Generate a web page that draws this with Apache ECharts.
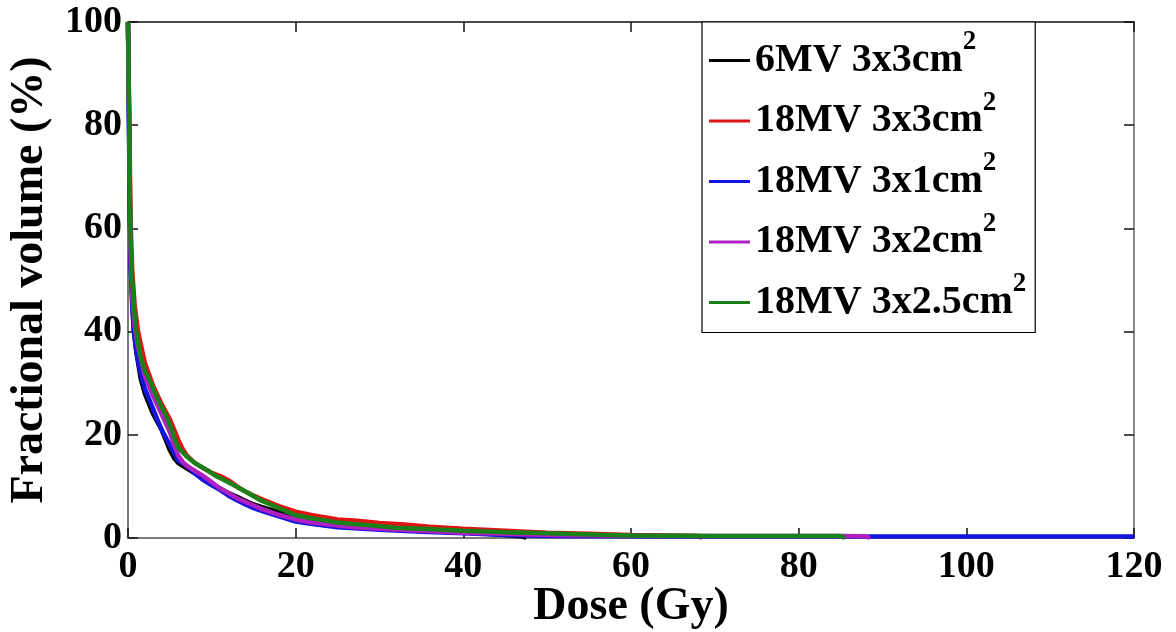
<!DOCTYPE html>
<html>
<head>
<meta charset="utf-8">
<script src="https://cdn.jsdelivr.net/npm/echarts@6/dist/echarts.min.js"></script>
<style>
html,body{margin:0;padding:0;background:#fff;}
#chart{width:1176px;height:632px;}
</style>
</head>
<body>
<div id="chart"></div>
<script>
// Series names (legend text, superscript "2" appended by formatter)
const seriesNames = ['6MV 3x3cm', '18MV 3x3cm', '18MV 3x1cm', '18MV 3x2cm', '18MV 3x2.5cm'];
const seriesColors = ['#000000', '#e01414', '#1414e0', '#b020c0', '#1a801a'];

// Tick values
const xTicks = [0, 20, 40, 60, 80, 100, 120];
const yTicks = [0, 20, 40, 60, 80, 100];

// [dose (Gy), fractional volume (%)]
const black6MV3x3 = [[0,100],[0.1,85],[0.2,68],[0.3,55],[0.5,46],[0.7,40],[1,36],[1.5,31],[2,28],[2.5,26],[3,24],[3.5,22.5],[4,21],[4.5,19],[5,17],[5.5,15.5],[6,14.5],[7,13.5],[8,12.5],[9,11.5],[10,10.5],[11,9.6],[12,8.7],[13,8],[14,7.2],[15,6.5],[16,6],[18,5],[20,4.2],[22,3.6],[25,2.9],[28,2.3],[30,2],[35,1.5],[40,1.1],[45,0.6],[47,0.3],[47.5,0]];
const red18MV3x3 = [[0,100],[0.1,88],[0.2,75],[0.3,62],[0.5,52],[0.8,45],[1.2,40],[2,34],[3,29.5],[4,26],[5,23],[5.5,21],[6,19],[6.5,17.3],[7,16],[8,14.5],[9,13.5],[10,12.6],[11,12],[12,11.2],[13,10],[14,9],[15,8.2],[16,7.5],[18,6.2],[20,5.1],[22,4.4],[25,3.6],[27,3.4],[30,2.9],[33,2.6],[36,2.2],[40,1.8],[45,1.4],[50,1.0],[55,0.8],[60,0.6],[65,0.5],[68,0.4],[68.5,0]];
const blue18MV3x1 = [[0,100],[0.1,82],[0.2,66],[0.3,53],[0.5,45],[0.7,40],[1,36],[1.5,32],[2,29],[2.5,27],[3,25],[3.5,23],[4,21],[4.5,19.5],[5,18],[5.5,16.5],[6,15],[7,14],[8,12.5],[9,11.2],[10,10.2],[11,9.3],[12,8.2],[13,7.3],[14,6.5],[15,5.8],[16,5.2],[18,4.2],[20,3.2],[22,2.7],[25,2.1],[27,1.9],[30,1.6],[35,1.2],[40,0.9],[45,0.6],[50,0.4],[60,0.35],[70,0.3],[80,0.3],[90,0.3],[100,0.3],[110,0.3],[120,0.3]];
const magenta18MV3x2 = [[0,100],[0.1,84],[0.2,68],[0.3,55],[0.5,47],[0.8,41],[1.2,37],[2,31.5],[3,27.5],[4,24],[5,20.5],[5.5,18],[6,16],[6.5,14.8],[7,14],[8,13],[9,12],[10,10.8],[11,9.6],[12,8.7],[13,7.7],[14,7],[15,6.3],[16,5.6],[18,4.5],[20,3.6],[22,3],[25,2.4],[27,2.1],[30,1.8],[35,1.4],[40,1.0],[45,0.8],[50,0.6],[60,0.45],[70,0.4],[80,0.4],[85,0.4],[88,0.35],[88.5,0]];
const green18MV3x25 = [[0,100],[0.1,86],[0.2,72],[0.3,58],[0.5,50],[0.8,43],[1,40],[1.5,35],[2,32.5],[2.6,30.5],[3.5,27],[4.6,23.5],[5.2,21],[5.6,19],[6,17.5],[7,15.8],[8,14.5],[9.4,13.2],[10.5,12],[12.2,10.6],[14,9],[15.7,7.4],[17,6.5],[18,5.8],[20,4.4],[22,3.8],[25,3],[27,2.7],[30,2.3],[32,2],[35,1.8],[40,1.4],[45,1.1],[50,0.9],[55,0.7],[60,0.5],[70,0.4],[80,0.4],[85,0.4],[85.5,0]];

const seriesData = [black6MV3x3, red18MV3x3, blue18MV3x1, magenta18MV3x2, green18MV3x25];

const FONT = 'Liberation Serif';
const chart = echarts.init(document.getElementById('chart'), null, {renderer: 'canvas'});

const frameColor = '#7a7a7a';
const tickStyle = {show: true, inside: true, length: 10, lineStyle: {color: '#111', width: 1.5}};

const option = {
  backgroundColor: '#ffffff',
  animation: false,
  grid: {left: 128, right: 42, top: 22, bottom: 94, containLabel: false, outerBoundsMode: 'none'},
  legend: {
    orient: 'vertical',
    left: 702,
    top: 22,
    padding: [7, 9, 10, 7],
    itemGap: 9,
    itemWidth: 41,
    itemHeight: 3,
    icon: 'rect',
    backgroundColor: '#fff',
    borderColor: '#000',
    borderWidth: 1.2,
    data: seriesNames,
    formatter: function (name) { return '{b|' + name + '}{s|2}'; },
    textStyle: {
      color: '#000',
      fontFamily: FONT,
      fontWeight: 'bold',
      rich: {
        b: {fontFamily: FONT, fontWeight: 'bold', fontSize: 40, color: '#000', padding: [0, 0, 0, 0]},
        s: {fontFamily: FONT, fontWeight: 'bold', fontSize: 27, color: '#000', padding: [0, 0, 36, 0]}
      }
    }
  },
  xAxis: [{
    type: 'value', min: 0, max: 120, interval: 20, position: 'bottom',
    name: 'Dose (Gy)', nameLocation: 'middle', nameGap: 46, nameMoveOverlap: false,
    nameTextStyle: {fontFamily: FONT, fontWeight: 'bold', fontSize: 46, color: '#000'},
    axisLine: {show: true, onZero: false, lineStyle: {color: frameColor, width: 2}},
    axisTick: tickStyle,
    axisLabel: {show: true, margin: 10, fontFamily: FONT, fontWeight: 'bold', fontSize: 38, color: '#000',
      formatter: function (v) { return xTicks.indexOf(v) >= 0 ? String(v) : ''; }},
    splitLine: {show: false}
  }, {
    type: 'value', min: 0, max: 120, interval: 20, position: 'top',
    axisLine: {show: true, onZero: false, lineStyle: {color: '#4a4a4a', width: 2}},
    axisTick: tickStyle, axisLabel: {show: false}, splitLine: {show: false}
  }],
  yAxis: [{
    type: 'value', min: 0, max: 100, interval: 20, position: 'left',
    name: 'Fractional volume (%)', nameLocation: 'middle', nameGap: 75, nameRotate: 90, nameMoveOverlap: false,
    nameTextStyle: {fontFamily: FONT, fontWeight: 'bold', fontSize: 46, color: '#000'},
    axisLine: {show: true, onZero: false, lineStyle: {color: frameColor, width: 2}},
    axisTick: tickStyle,
    axisLabel: {show: true, margin: 6, fontFamily: FONT, fontWeight: 'bold', fontSize: 38, color: '#000',
      formatter: function (v) { return yTicks.indexOf(v) >= 0 ? String(v) : ''; }},
    splitLine: {show: false}
  }, {
    type: 'value', min: 0, max: 100, interval: 20, position: 'right',
    axisLine: {show: true, onZero: false, lineStyle: {color: '#8a8a8a', width: 2}},
    axisTick: tickStyle, axisLabel: {show: false}, splitLine: {show: false}
  }],
  series: seriesNames.map(function (name, i) {
    return {
      name: name,
      type: 'line',
      xAxisIndex: 0,
      yAxisIndex: 0,
      data: seriesData[i],
      showSymbol: false,
      symbol: 'none',
      clip: false,
      z: 2 + i,
      color: seriesColors[i],
      itemStyle: {color: seriesColors[i]},
      lineStyle: {color: seriesColors[i], width: 4.5}
    };
  })
};
chart.setOption(option);
</script>
</body>
</html>
